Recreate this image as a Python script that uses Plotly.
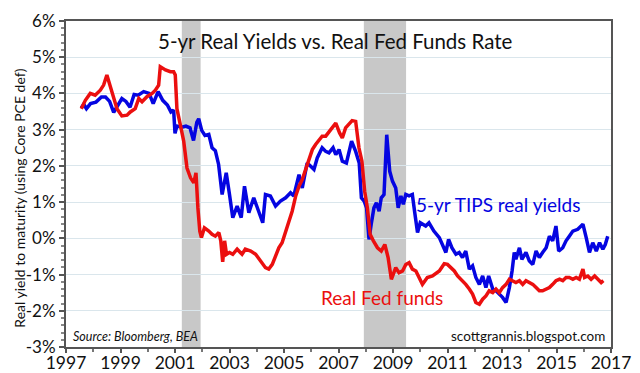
import plotly.graph_objects as go

# ---- data ----
tips_years = [1997.56,1997.65,1997.75,1997.90,1998.10,1998.30,1998.45,1998.60,1998.75,1998.90,
    1999.05,1999.20,1999.35,1999.50,1999.65,1999.85,2000.05,2000.20,2000.38,2000.55,2000.72,2000.85,
    2000.95,2001.00,2001.07,2001.25,2001.40,2001.55,2001.68,2001.80,2001.87,2001.98,2002.10,2002.24,
    2002.36,2002.48,2002.60,2002.73,2002.88,2003.00,2003.12,2003.28,2003.43,2003.55,2003.71,2003.89,
    2004.08,2004.22,2004.32,2004.50,2004.69,2004.87,2005.06,2005.24,2005.36,2005.55,2005.67,2005.85,
    2005.98,2006.10,2006.22,2006.40,2006.53,2006.65,2006.80,2006.90,2007.02,2007.14,2007.29,2007.48,
    2007.63,2007.76,2007.84,2007.94,2008.03,2008.12,2008.20,2008.30,2008.39,2008.49,2008.57,2008.67,
    2008.77,2008.88,2008.98,2009.10,2009.19,2009.29,2009.38,2009.47,2009.59,2009.71,2009.80,2009.90,
    2010.00,2010.20,2010.32,2010.50,2010.70,2010.82,2010.94,2011.04,2011.16,2011.31,2011.43,2011.55,
    2011.67,2011.80,2011.92,2012.04,2012.17,2012.29,2012.41,2012.51,2012.66,2012.78,2012.90,2013.02,
    2013.15,2013.27,2013.37,2013.45,2013.51,2013.64,2013.73,2013.88,2014.00,2014.13,2014.25,2014.37,
    2014.49,2014.62,2014.74,2014.86,2014.98,2015.08,2015.23,2015.35,2015.47,2015.60,2015.78,2015.97,
    2016.09,2016.21,2016.33,2016.46,2016.58,2016.70,2016.79,2016.88]
tips_values = [3.60,3.70,3.58,3.72,3.76,3.90,3.90,3.78,3.48,3.68,
    3.86,3.78,3.62,3.97,3.95,4.05,4.00,3.72,4.05,3.81,3.68,3.49,
    3.54,2.90,3.10,3.07,3.10,3.05,2.70,3.20,3.30,2.98,2.84,2.87,
    2.50,2.42,2.04,1.21,1.81,1.21,0.57,0.89,0.57,1.44,0.71,1.12,
    0.75,0.43,1.21,1.17,0.89,1.03,1.12,1.26,1.17,1.76,1.39,2.08,
    1.99,1.90,2.22,2.50,2.40,2.36,2.50,2.31,2.45,2.13,2.08,2.68,
    2.40,2.08,1.12,1.03,0.84,-0.03,0.39,0.84,0.98,0.75,1.12,1.21,
    2.86,1.85,1.58,1.39,0.84,1.17,0.94,1.21,1.17,1.21,0.70,0.16,
    0.43,0.34,0.43,0.20,0.02,-0.17,-0.39,-0.03,-0.26,-0.44,-0.39,-0.53,
    -0.35,-0.85,-0.76,-1.08,-1.27,-1.04,-1.36,-1.04,-1.40,-1.45,-1.54,-1.63,
    -1.77,-1.36,-0.90,-0.39,-0.58,-0.26,-0.58,-0.39,-0.62,-0.72,-0.35,-0.53,
    -0.39,-0.26,0.06,-0.07,0.34,-0.35,-0.26,-0.07,0.06,0.20,0.25,0.39,
    0.02,-0.39,-0.12,-0.35,-0.12,-0.30,-0.17,0.06]

fed_years = [1997.56,1997.71,1997.89,1998.07,1998.26,1998.38,1998.50,1998.62,1998.75,1998.87,
    1999.05,1999.24,1999.36,1999.54,1999.67,1999.79,1999.97,2000.16,2000.28,2000.40,2000.46,2000.65,
    2000.83,2000.95,2001.01,2001.07,2001.20,2001.32,2001.44,2001.57,2001.69,2001.77,2001.84,2001.91,
    2001.97,2002.08,2002.24,2002.36,2002.48,2002.61,2002.68,2002.75,2002.82,2002.89,2003.00,2003.12,
    2003.28,2003.46,2003.58,2003.78,2003.96,2004.14,2004.32,2004.44,2004.57,2004.69,2004.81,2004.93,
    2005.03,2005.18,2005.30,2005.43,2005.55,2005.67,2005.79,2005.92,2006.04,2006.16,2006.28,2006.40,
    2006.53,2006.65,2006.77,2006.90,2007.04,2007.14,2007.26,2007.40,2007.50,2007.63,2007.75,2007.86,
    2007.96,2008.06,2008.16,2008.28,2008.43,2008.57,2008.70,2008.82,2008.94,2009.10,2009.22,2009.35,
    2009.47,2009.59,2009.71,2009.84,2009.96,2010.08,2010.26,2010.45,2010.70,2010.88,2011.00,2011.12,
    2011.25,2011.37,2011.49,2011.67,2011.80,2011.92,2012.04,2012.17,2012.29,2012.41,2012.53,2012.66,
    2012.78,2012.90,2013.02,2013.15,2013.27,2013.39,2013.51,2013.64,2013.76,2013.88,2014.00,2014.13,
    2014.25,2014.37,2014.49,2014.62,2014.74,2014.86,2014.98,2015.11,2015.23,2015.35,2015.47,2015.60,
    2015.72,2015.84,2015.97,2016.03,2016.15,2016.27,2016.40,2016.52,2016.64,2016.72]
fed_values = [3.58,3.81,4.00,3.95,4.09,4.23,4.51,4.19,3.86,3.58,
    3.38,3.40,3.49,3.58,3.86,3.77,3.91,4.00,4.09,4.23,4.74,4.65,
    4.60,4.60,4.51,3.58,3.12,2.68,1.94,1.67,1.53,1.81,0.84,0.20,
    0.02,0.29,0.20,0.11,0.06,0.16,-0.07,-0.65,-0.07,-0.44,-0.39,-0.44,
    -0.30,-0.44,-0.30,-0.35,-0.44,-0.62,-0.81,-0.85,-0.72,-0.49,-0.26,-0.12,
    0.11,0.48,0.75,1.17,1.44,1.62,1.90,2.17,2.45,2.59,2.72,2.82,
    2.82,2.95,3.05,3.18,2.91,2.77,3.05,3.18,3.25,3.23,2.50,2.13,
    1.30,0.84,0.11,-0.07,-0.26,-0.35,-0.17,-0.53,-1.13,-0.81,-0.95,-0.90,
    -0.72,-0.67,-0.85,-0.90,-1.08,-1.27,-1.08,-1.04,-0.90,-0.70,-0.72,-0.81,
    -0.90,-1.04,-1.13,-1.27,-1.40,-1.54,-1.77,-1.82,-1.68,-1.59,-1.45,-1.50,
    -1.40,-1.50,-1.36,-1.27,-1.13,-1.17,-1.22,-1.17,-1.27,-1.17,-1.22,-1.27,
    -1.36,-1.45,-1.45,-1.40,-1.36,-1.27,-1.17,-1.13,-1.17,-1.08,-1.08,-1.13,
    -1.08,-1.13,-0.85,-1.08,-1.04,-1.13,-1.04,-1.13,-1.22,-1.17]

recession_starts = [2001.25, 2007.93]
recession_ends = [2001.94, 2009.48]

x_tick_years = [1997, 1999, 2001, 2003, 2005, 2007, 2009, 2011, 2013, 2015, 2017]
y_tick_values = [-3, -2, -1, 0, 1, 2, 3, 4, 5, 6]
y_tick_labels = [f"{v}%" for v in y_tick_values]

FONT = "Lato"
BLUE = "rgb(5,5,225)"
RED = "rgb(235,15,15)"

fig = go.Figure()
fig.add_trace(go.Scatter(x=tips_years, y=tips_values, mode="lines",
                         line=dict(color=BLUE, width=3.5), showlegend=False))
fig.add_trace(go.Scatter(x=fed_years, y=fed_values, mode="lines",
                         line=dict(color=RED, width=3.5), showlegend=False))

for s, e in zip(recession_starts, recession_ends):
    fig.add_shape(type="rect", xref="x", yref="paper", x0=s, x1=e, y0=0, y1=1,
                  fillcolor="rgb(200,200,200)", line=dict(width=0), layer="below")

fig.update_layout(
    width=640, height=373,
    margin=dict(l=58, r=37, t=13, b=34),
    paper_bgcolor="white", plot_bgcolor="white",
    font=dict(family=FONT, color="#111", size=16),
    xaxis=dict(range=[1997, 2017], tickvals=x_tick_years, ticktext=[str(v) for v in x_tick_years],
               automargin=False,
               showgrid=False, zeroline=False, showline=True, linecolor="#555", linewidth=2,
               mirror=True, ticks="outside", ticklen=4, tickcolor="#555", tickwidth=1.5,
               ticklabelstandoff=-5,
               minor=dict(dtick=1, ticks="outside", ticklen=3, tickcolor="#777"),
               tickfont=dict(size=17.5, family=FONT)),
    yaxis=dict(range=[-3, 6], tickvals=y_tick_values, ticktext=y_tick_labels,
               automargin=False,
               showgrid=True, gridcolor="rgb(218,230,236)", gridwidth=1,
               zeroline=False, showline=True, linecolor="#555", linewidth=2, mirror=True,
               ticks="outside", ticklen=5, tickcolor="#555", tickwidth=1.5,
               minor=dict(dtick=0.2, ticks="outside", ticklen=3, tickcolor="#888", showgrid=False),
               tickfont=dict(size=17, family=FONT)),
)

fig.add_annotation(text="Real yield to maturity (using Core PCE def)", textangle=-90,
                   x=-0.0844, xref="paper", xanchor="center",
                   y=0.455, yref="paper", yanchor="middle", showarrow=False,
                   font=dict(size=14, family=FONT))
fig.add_annotation(text="5-yr Real Yields vs. Real Fed Funds Rate", x=0.495, y=0.94,
                   xref="paper", yref="paper", yanchor="middle", showarrow=False,
                   font=dict(size=20.5, family=FONT))
fig.add_annotation(text="5-yr TIPS real yields", x=2012.85, y=0.93, xref="x", yref="y",
                   showarrow=False, font=dict(size=19, color=BLUE, family=FONT))
fig.add_annotation(text="Real Fed funds", x=2008.6, y=-1.64, xref="x", yref="y",
                   showarrow=False, font=dict(size=19, color=RED, family=FONT))
fig.add_annotation(text="<i>Source: Bloomberg, BEA</i>", x=0.01, y=-2.7, xref="paper", yref="y",
                   xanchor="left", showarrow=False, font=dict(size=12.5, family=FONT))
fig.add_annotation(text="scottgrannis.blogspot.com", x=0.992, y=-2.7, xref="paper", yref="y",
                   xanchor="right", showarrow=False, font=dict(size=13.5, family=FONT))

fig.write_html("out.html")
